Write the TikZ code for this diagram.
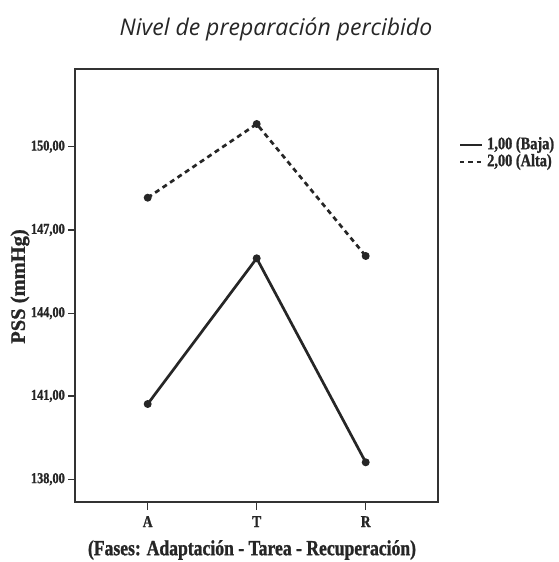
\documentclass[tikz,border=0pt]{standalone}
\usepackage{fontspec}
\setmainfont{Liberation Serif}[FakeStretch=0.82, BoldFeatures={FakeBold=1.2}]
\newfontfamily\widefont{Liberation Serif}[BoldFeatures={FakeBold=1.2}]
\newfontfamily\titlefont{Open Sans}
\begin{document}
\begin{tikzpicture}[x=1pt,y=1pt,
  frame/.style={draw=black!80, line width=1.2pt},
  tickln/.style={draw=black!80, line width=1.2pt},
  ticklab/.style={font=\bfseries\fontsize{15}{16}\selectfont, anchor=east, inner sep=0pt, text=black!85},
  catlab/.style={font=\bfseries\fontsize{16.5}{17}\selectfont, anchor=north, inner sep=0pt, text=black!85},
  dot/.style={circle, fill=black!85, inner sep=0pt, minimum size=8pt},
  baja/.style={draw=black!85, line width=2.7pt},
  alta/.style={draw=black!85, line width=2.7pt, dash pattern=on 5pt off 4pt},
  legtext/.style={font=\bfseries\fontsize{17.5}{18}\selectfont, anchor=west, inner sep=0pt, text=black!85}]
\useasboundingbox (0,0) rectangle (558,562);
% frame
\draw[frame] (75,60) rectangle (438,493);
% title
\node[font=\titlefont\itshape\fontsize{23}{25}\selectfont, text=black!85] (title) at (276,533) {Nivel de preparación percibido};
% y ticks
\foreach \v/\y in {150/415.3,147/332,144/248.7,141/166,138/82.7}{
  \draw[tickln] (68,\y) -- (75,\y);
  \node[ticklab] (yl\v) at (65,\y) {\v,00};
}
% x ticks
\foreach \n/\x in {A/147.7,T/256.7,R/365.7}{
  \draw[tickln] (\x,60) -- (\x,52);
  \node[catlab] (xl\n) at (\x,46) {\n};
}
% axis labels
\node[font=\widefont\bfseries\fontsize{20.5}{21}\selectfont, rotate=90, text=black!85] (ylab) at (20,275.5) {PSS (mmHg)};
\node[font=\bfseries\fontsize{21.5}{22}\selectfont, text=black!85] (xlab) at (252,12) {(Fases: Adaptación - Tarea - Recuperación)};
% data
\node[dot] (bA) at (147.7,158) {};
\node[dot] (bT) at (256.7,303.7) {};
\node[dot] (bR) at (365.7,99.7) {};
\node[dot] (aA) at (147.7,364.3) {};
\node[dot] (aT) at (256.7,438) {};
\node[dot] (aR) at (365.7,306) {};
\draw[baja] (bA.center) -- (bT.center) -- (bR.center);
\draw[alta] (aA.center) -- (aT.center) -- (aR.center);
% legend
\coordinate (l1a) at (460,417);
\coordinate (l1b) at (482,417);
\coordinate (l2a) at (460,400);
\coordinate (l2b) at (482,400);
\draw[baja, line width=2.4pt] (l1a) -- (l1b);
\draw[draw=black!85, line width=2.4pt, dash pattern=on 4.3pt off 4pt] (l2a) -- (l2b);
\node[legtext] (leg1) at (487,417) {1,00 (Baja)};
\node[legtext] (leg2) at (487,400) {2,00 (Alta)};
\end{tikzpicture}
\end{document}
